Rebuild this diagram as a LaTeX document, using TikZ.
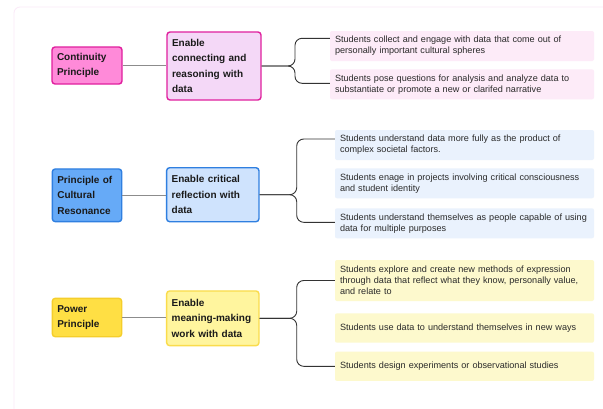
\documentclass[tikz,border=0pt]{standalone}
\usepackage{fontspec}
\setmainfont{Liberation Sans}

% palette
\definecolor{pinkEdge}{HTML}{E0209E}
\definecolor{pinkMain}{HTML}{FF8AD9}
\definecolor{pinkMid}{HTML}{F4D8F7}
\definecolor{pinkLeaf}{HTML}{FDEBF8}
\definecolor{blueEdge}{HTML}{2F7FE0}
\definecolor{blueMain}{HTML}{66AAF7}
\definecolor{blueMid}{HTML}{CFE3FD}
\definecolor{blueLeaf}{HTML}{EAF2FD}
\definecolor{goldEdge}{HTML}{F5CE2B}
\definecolor{goldMain}{HTML}{FFDF44}
\definecolor{goldMidEdge}{HTML}{FADC4C}
\definecolor{goldMid}{HTML}{FFF59E}
\definecolor{goldLeaf}{HTML}{FDF9CD}
\definecolor{frameLine}{HTML}{FBE9F8}
\definecolor{inkDark}{HTML}{1A1A1A}
\definecolor{inkLeaf}{HTML}{2A2A2A}
\definecolor{linkGrey}{HTML}{8C8C8C}
\definecolor{braceInk}{HTML}{333333}

\begin{document}
\begin{tikzpicture}[x=1pt,y=-1pt,
  box/.style={draw, line width=1.4pt, rounded corners=3pt,
    font=\fontsize{10}{15.6}\selectfont\bfseries, text=inkDark,
    align=left, inner xsep=5pt, inner ysep=0pt, anchor=center},
  leaf/.style={rounded corners=2pt, font=\fontsize{9.1}{11}\selectfont,
    text=inkLeaf, align=left, inner xsep=5pt, inner ysep=0pt, anchor=center},
  link/.style={draw=linkGrey, line width=0.8pt},
  brace/.style={draw=braceInk, line width=0.9pt, rounded corners=7pt}]

\useasboundingbox (0,0) rectangle (603,408);
\fill[white] (0,0) rectangle (603,408);

% faint page frame running off the right and bottom
\begin{scope}
  \clip (0,0) rectangle (603,408);
  \draw[frameLine, line width=0.8pt, rounded corners=6pt] (14,7) rectangle (650,450);
\end{scope}

% ---------- continuity ----------
\node[box, draw=pinkEdge, fill=pinkMain, text width=60pt, minimum height=37pt]
  (P1) at (87,65.5) {Continuity\\Principle};
\node[box, draw=pinkEdge, fill=pinkMid, text width=84pt, minimum height=68pt]
  (E1) at (214,66) {Enable\\connecting and\\reasoning with\\data};
\node[leaf, fill=pinkLeaf, text width=254pt, minimum height=30pt]
  (L11) at (462,46) {Students collect and engage with data that come out of\\personally important cultural spheres};
\node[leaf, fill=pinkLeaf, text width=254pt, minimum height=30pt]
  (L12) at (462,84.3) {Students pose questions for analysis and analyze data to\\substantiate or promote a new or clarifed narrative};

\draw[link] (P1.east) -- (P1.east -| E1.west);
\coordinate (s1) at (295,0);
\coordinate (t11) at ([yshift=7.7pt]L11.west);
\coordinate (t12) at ([yshift=1pt]L12.west);
\draw[brace] (E1.east) -| (s1 |- t11) -- (t11);
\draw[brace] (E1.east) -| (s1 |- t12) -- (t12);

% ---------- cultural resonance ----------
\node[box, draw=blueEdge, fill=blueMain, text width=59.4pt, minimum height=52.7pt]
  (P2) at (87,195.3) {Principle of\\Cultural\\Resonance};
\node[box, draw=blueEdge, fill=blueMid, text width=82.3pt, minimum height=54pt]
  (E2) at (212.8,194.7) {Enable critical\\reflection with\\data};
\node[leaf, fill=blueLeaf, text width=249pt, minimum height=30pt]
  (L21) at (464.5,145) {Students understand data more fully as the product of\\complex societal factors.};
\node[leaf, fill=blueLeaf, text width=249pt, minimum height=30pt]
  (L22) at (464.5,183.3) {Students enage in projects involving critical consciousness\\and student identity};
\node[leaf, fill=blueLeaf, text width=249pt, minimum height=30pt]
  (L23) at (464.5,223.3) {Students understand themselves as people capable of using\\data for multiple purposes};

\draw[link] (P2.east) -- (P2.east -| E2.west);
\coordinate (s2) at (296.7,0);
\coordinate (t21) at ([yshift=6pt]L21.west);
\coordinate (t23) at ([yshift=1pt]L23.west);
\draw[brace] (E2.east) -| (s2 |- t21) -- (t21);
\draw[brace] (E2.east) -| (s2 |- t23) -- (t23);

% ---------- power ----------
\node[box, draw=goldEdge, fill=goldMain, text width=59.4pt, minimum height=38.4pt]
  (P3) at (87,317.5) {Power\\Principle};
\node[box, draw=goldMidEdge, fill=goldMid, text width=82.3pt, minimum height=54.7pt]
  (E3) at (212.8,318.3) {Enable\\meaning-making\\work with data};
\node[leaf, fill=goldLeaf, text width=249pt, minimum height=41pt]
  (L31) at (464.5,280.5) {Students explore and create new methods of expression\\through data that reflect what they know, personally value,\\and relate to};
\node[leaf, fill=goldLeaf, text width=249pt, minimum height=29.4pt]
  (L32) at (464.5,328) {Students use data to understand themselves in new ways};
\node[leaf, fill=goldLeaf, text width=249pt, minimum height=29.3pt]
  (L33) at (464.5,366.3) {Students design experiments or observational studies};

\draw[link] (P3.east) -- (P3.east -| E3.west);
\coordinate (s3) at (296.7,0);
\draw[brace] (E3.east) -| (s3 |- L31.west) -- (L31.west);
\draw[brace] (E3.east) -| (s3 |- L33.west) -- (L33.west);

\end{tikzpicture}
\end{document}
